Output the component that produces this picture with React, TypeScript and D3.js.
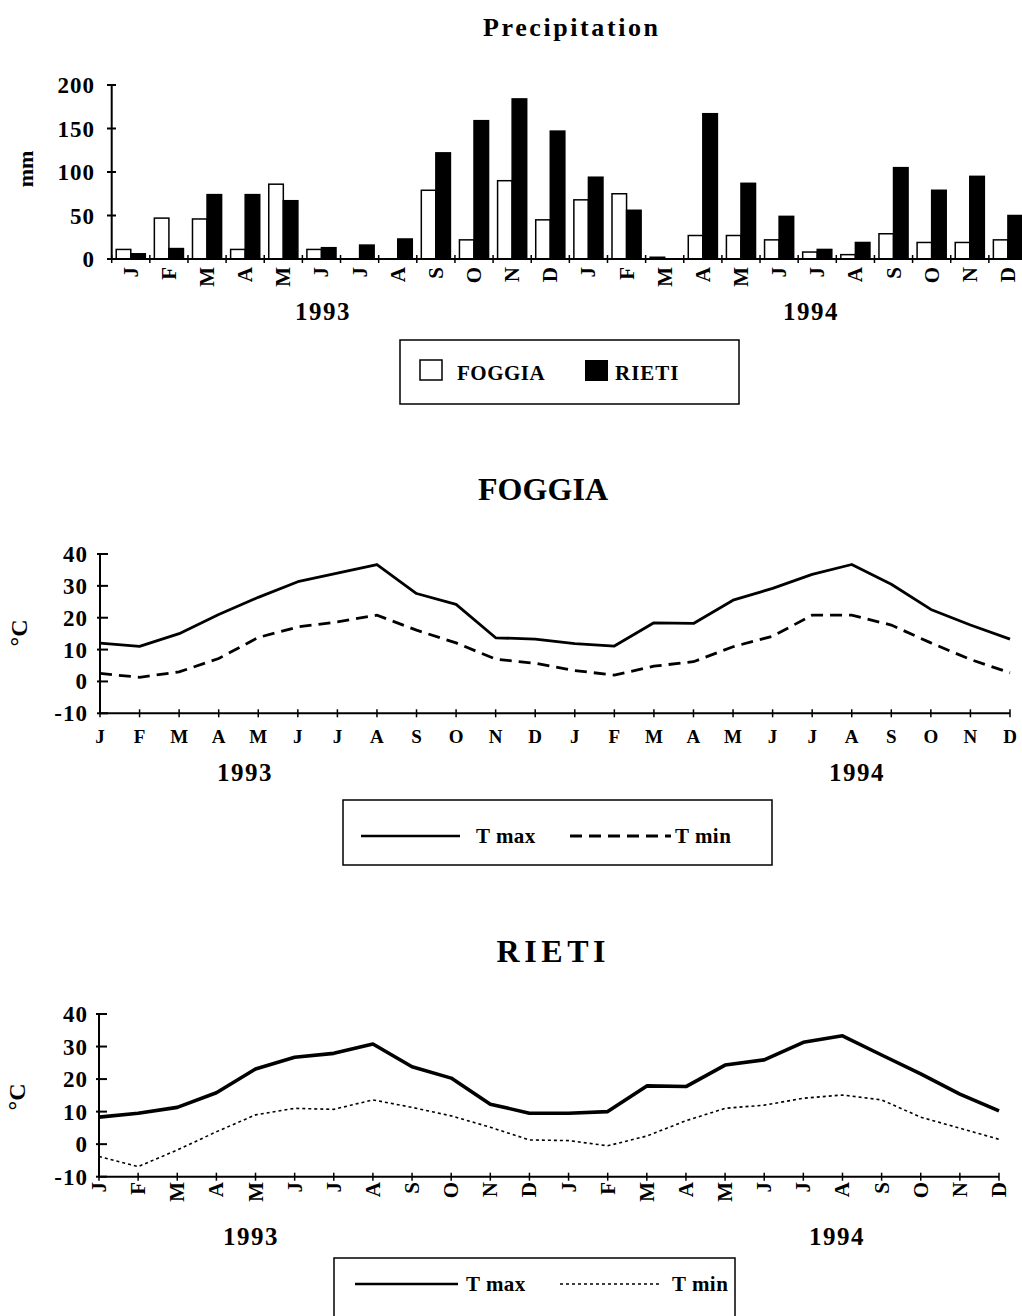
import React from "react";
import * as d3 from "d3";

const months = ["J", "F", "M", "A", "M", "J", "J", "A", "S", "O", "N", "D", "J", "F", "M", "A", "M", "J", "J", "A", "S", "O", "N", "D"];
const years = ["1993", "1994"];
const precipTicks = [0, 50, 100, 150, 200];
const tempTicks = [-10, 0, 10, 20, 30, 40];

const precipFoggia = [11, 47, 46, 11, 86, 11, 0, 0, 79, 22, 90, 45, 68, 75, 2, 27, 27, 22, 8, 5, 29, 19, 19, 22];
const precipRieti = [6, 12, 74, 74, 67, 13, 16, 23, 122, 159, 184, 147, 94, 56, 0, 167, 87, 49, 11, 19, 105, 79, 95, 50];

const foggiaTmax = [12, 11, 15, 21, 26.4, 31.3, 34, 36.7, 27.6, 24.2, 13.7, 13.3, 11.9, 11.1, 18.4, 18.2, 25.5, 29.2, 33.6, 36.7, 30.5, 22.6, 17.7, 13.3];
const foggiaTmin = [2.5, 1.3, 3, 7.2, 13.8, 17.1, 18.7, 20.8, 16.1, 12.1, 7, 5.7, 3.4, 2, 4.8, 6.2, 10.9, 14.2, 20.8, 20.8, 17.7, 12.1, 6.9, 2.7];
const rietiTmax = [8.3, 9.5, 11.3, 15.8, 23.1, 26.7, 27.9, 30.8, 23.8, 20.3, 12.3, 9.5, 9.5, 10, 17.9, 17.7, 24.3, 25.9, 31.3, 33.3, 27.4, 21.6, 15.4, 10.2];
const rietiTmin = [-3.8, -6.9, -1.8, 3.8, 9, 11, 10.7, 13.6, 11.3, 8.7, 5.2, 1.3, 1.1, -0.5, 2.5, 7.2, 11, 12, 14.1, 15.1, 13.6, 8.3, 4.9, 1.5];

const FONT = "'Liberation Serif', 'Times New Roman', Times, serif";
const idx = d3.range(24);

function PrecipChart() {
  const x = d3.scaleBand<number>().domain(idx).range([111.7, 1027]);
  const y = d3.scaleLinear().domain([0, 200]).range([259, 85]);
  const sub = d3.scaleBand<string>().domain(["FOGGIA", "RIETI"]).range([0, x.bandwidth()]).paddingOuter(0.31);
  const bw = x.bandwidth();
  const series = [
    { key: "FOGGIA", values: precipFoggia, fill: "#fff" },
    { key: "RIETI", values: precipRieti, fill: "#000" },
  ];
  return (
    <g>
      <text x={570.5} y={36} textAnchor="middle" fontSize={26} fontWeight="bold" textLength={175} lengthAdjust="spacing">Precipitation</text>
      <text transform="translate(25,169) rotate(-90)" textAnchor="middle" dominantBaseline="central" fontSize={22} fontWeight="bold">mm</text>
      {series.map((s) =>
        s.values.map((v, i) =>
          v > 0 ? (
            <rect key={s.key + i} x={(x(i) as number) + (sub(s.key) as number)} y={y(v)} width={sub.bandwidth()} height={y(0) - y(v)} fill={s.fill} stroke="#000" strokeWidth={1.5} />
          ) : null
        )
      )}
      <line x1={111.7} x2={111.7} y1={y(200)} y2={y(0)} stroke="#000" strokeWidth={2} />
      <line x1={111.7} x2={1027} y1={y(0)} y2={y(0)} stroke="#000" strokeWidth={2} />
      {precipTicks.map((t) => (
        <g key={t}>
          <line x1={107} x2={116} y1={y(t)} y2={y(t)} stroke="#000" strokeWidth={2} />
          <text x={95} y={y(t)} dy="0.35em" textAnchor="end" fontSize={23} fontWeight="bold" letterSpacing={1}>{t}</text>
        </g>
      ))}
      {d3.range(25).map((i) => {
        const xx = i < 24 ? (x(i) as number) : 1027;
        return <line key={i} x1={xx} x2={xx} y1={y(0) - 4} y2={y(0) + 4} stroke="#000" strokeWidth={1.5} />;
      })}
      {months.map((m, i) => {
        const cx = (x(i) as number) + bw / 2;
        return (
          <text key={i} transform={`translate(${cx},267) rotate(-90)`} textAnchor="end" dominantBaseline="central" fontSize={21} fontWeight="bold">{m}</text>
        );
      })}
      <text x={323} y={320} textAnchor="middle" fontSize={25} fontWeight="bold" letterSpacing={1.5}>{years[0]}</text>
      <text x={811} y={320} textAnchor="middle" fontSize={25} fontWeight="bold" letterSpacing={1.5}>{years[1]}</text>
      <rect x={400} y={340} width={339} height={64} fill="none" stroke="#000" strokeWidth={1.5} />
      <rect x={420} y={360} width={22} height={20} fill="#fff" stroke="#000" strokeWidth={1.5} />
      <text x={457} y={380} fontSize={21} fontWeight="bold" letterSpacing={0.5}>FOGGIA</text>
      <rect x={585} y={360} width={23} height={21} fill="#000" />
      <text x={615} y={380} fontSize={21} fontWeight="bold" letterSpacing={1}>RIETI</text>
    </g>
  );
}

type TempProps = {
  title: string;
  titleX: number;
  titleY: number;
  titleLen: number;
  tmax: number[];
  tmin: number[];
  x0: number;
  x1: number;
  yTop: number;
  yBot: number;
  rotated: boolean;
  labelY: number;
  cLabel: [number, number];
  yearPos: [number, number];
  yearY: number;
  maxWidth: number;
  minStyle: { dash: string; width: number };
  legend: { x: number; y: number; w: number; h: number; lineY: number; l1: [number, number]; t1: number; l2: [number, number]; t2: number };
};

function TempChart(p: TempProps) {
  const x = d3.scalePoint<number>().domain(idx).range([p.x0, p.x1]);
  const y = d3.scaleLinear().domain([-10, 40]).range([p.yBot, p.yTop]);
  const line = d3.line<number>().x((_, i) => x(i) as number).y((d) => y(d));
  return (
    <g>
      <text x={p.titleX} y={p.titleY} textAnchor="middle" fontSize={32} fontWeight="bold" textLength={p.titleLen} lengthAdjust="spacing">{p.title}</text>
      <text transform={`translate(${p.cLabel[0]},${p.cLabel[1]}) rotate(-90)`} textAnchor="middle" dominantBaseline="central" fontSize={24} fontWeight="bold">°C</text>
      <line x1={p.x0} x2={p.x0} y1={y(40)} y2={y(-10)} stroke="#000" strokeWidth={2} />
      <line x1={p.x0} x2={p.x1} y1={y(-10)} y2={y(-10)} stroke="#000" strokeWidth={2} />
      {tempTicks.map((t) => (
        <g key={t}>
          <line x1={p.x0 - 3} x2={p.x0 + 8} y1={y(t)} y2={y(t)} stroke="#000" strokeWidth={2} />
          <text x={88} y={y(t)} dy="0.35em" textAnchor="end" fontSize={23} fontWeight="bold" letterSpacing={1}>{t}</text>
        </g>
      ))}
      {idx.map((i) => (
        <line key={i} x1={x(i)} x2={x(i)} y1={y(-10) - 4} y2={y(-10) + 4} stroke="#000" strokeWidth={1.5} />
      ))}
      {months.map((m, i) =>
        p.rotated ? (
          <text key={i} transform={`translate(${x(i)},${p.labelY}) rotate(-90)`} textAnchor="end" dominantBaseline="central" fontSize={21} fontWeight="bold">{m}</text>
        ) : (
          <text key={i} x={x(i)} y={p.labelY} textAnchor="middle" fontSize={19} fontWeight="bold">{m}</text>
        )
      )}
      <text x={p.yearPos[0]} y={p.yearY} textAnchor="middle" fontSize={25} fontWeight="bold" letterSpacing={1.5}>{years[0]}</text>
      <text x={p.yearPos[1]} y={p.yearY} textAnchor="middle" fontSize={25} fontWeight="bold" letterSpacing={1.5}>{years[1]}</text>
      <path d={line(p.tmax) || ""} fill="none" stroke="#000" strokeWidth={p.maxWidth} strokeLinejoin="round" />
      <path d={line(p.tmin) || ""} fill="none" stroke="#000" strokeWidth={p.minStyle.width} strokeDasharray={p.minStyle.dash} />
      <rect x={p.legend.x} y={p.legend.y} width={p.legend.w} height={p.legend.h} fill="none" stroke="#000" strokeWidth={1.5} />
      <line x1={p.legend.l1[0]} x2={p.legend.l1[1]} y1={p.legend.lineY} y2={p.legend.lineY} stroke="#000" strokeWidth={2.5} />
      <text x={p.legend.t1} y={p.legend.lineY + 7} fontSize={21} fontWeight="bold" letterSpacing={0.5}>T max</text>
      <line x1={p.legend.l2[0]} x2={p.legend.l2[1]} y1={p.legend.lineY} y2={p.legend.lineY} stroke="#000" strokeWidth={p.minStyle.width} strokeDasharray={p.minStyle.dash} />
      <text x={p.legend.t2} y={p.legend.lineY + 7} fontSize={21} fontWeight="bold" letterSpacing={0.5}>T min</text>
    </g>
  );
}

export default function App() {
  return (
    <svg width={1022} height={1316} style={{ position: "absolute", left: 0, top: 0, background: "#fff" }} fontFamily={FONT} fill="#000">
      <rect x={0} y={0} width={1022} height={1316} fill="#fff" />
      <PrecipChart />
      <TempChart
        title="FOGGIA" titleX={543} titleY={500} titleLen={130}
        tmax={foggiaTmax} tmin={foggiaTmin}
        x0={100} x1={1010} yTop={554} yBot={713.3}
        rotated={false} labelY={743} cLabel={[19, 633]}
        yearPos={[245, 857]} yearY={781}
        maxWidth={2.8} minStyle={{ dash: "12,7", width: 2.8 }}
        legend={{ x: 343, y: 800, w: 429, h: 65, lineY: 836, l1: [361, 460], t1: 476, l2: [570, 671], t2: 675 }}
      />
      <TempChart
        title="RIETI" titleX={551} titleY={962} titleLen={109}
        tmax={rietiTmax} tmin={rietiTmin}
        x0={99} x1={999} yTop={1014} yBot={1176.7}
        rotated={true} labelY={1182} cLabel={[17, 1097]}
        yearPos={[251, 837]} yearY={1245}
        maxWidth={3.6} minStyle={{ dash: "3,3", width: 1.6 }}
        legend={{ x: 334, y: 1258, w: 401, h: 70, lineY: 1284, l1: [355, 458], t1: 466, l2: [560, 660], t2: 672 }}
      />
    </svg>
  );
}
